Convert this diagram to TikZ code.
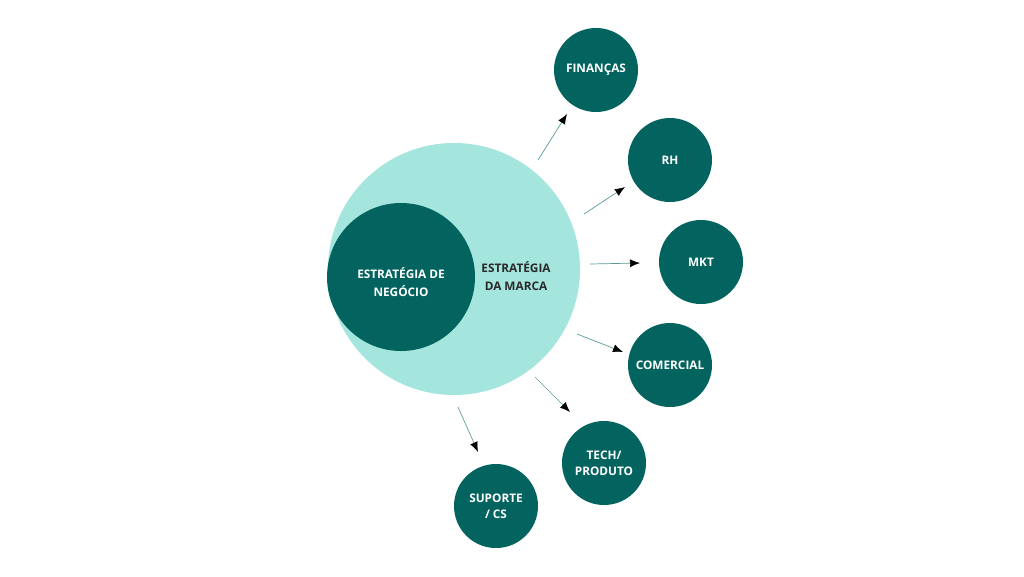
\documentclass[tikz,border=0pt]{standalone}
\usepackage{fontspec}
\setmainfont{Open Sans}
\usetikzlibrary{arrows.meta}
\definecolor{darkteal}{HTML}{02635F}
\definecolor{lightteal}{HTML}{A4E6DD}
\definecolor{linecol}{HTML}{5C9C9A}
\definecolor{txtdark}{HTML}{2A2A2A}
\begin{document}
\begin{tikzpicture}[x=1pt,y=-1pt,
  dept/.style={circle,fill=darkteal,minimum size=84pt,inner sep=0pt,text=white,
    font=\fontsize{11.8}{16}\selectfont\bfseries,align=center},
  conn/.style={draw=linecol,line width=0.7pt,-{Latex[length=10pt,width=8pt,color=black]}}]
\useasboundingbox (0,0) rectangle (1024,576);
\fill[white] (0,0) rectangle (1024,576);
\node[circle,fill=lightteal,minimum size=252pt,inner sep=0pt] (marca) at (454,269) {};
\node[circle,fill=darkteal,minimum size=148pt,inner sep=0pt] (negocio) at (401,277) {};
\node[text=white,font=\fontsize{11.8}{18}\selectfont\bfseries,align=center] (negtxt) at (401,282) {ESTRATÉGIA DE\\NEGÓCIO};
\node[text=txtdark,font=\fontsize{11.8}{18}\selectfont\bfseries,align=center] (marcatxt) at (516,276) {ESTRATÉGIA\\DA MARCA};
\node[dept] (fin) at (596,70) {FINANÇAS};
\node[dept] (rh) at (670,160) {RH};
\node[dept] (mkt) at (701,262) {MKT};
\node[dept] (com) at (670,365) {COMERCIAL};
\node[dept] (tech) at (604,463) {TECH/\\PRODUTO};
\node[dept] (sup) at (496,506) {SUPORTE\\/ CS};
\coordinate (s1) at (538,160); \coordinate (e1) at (567,114);
\coordinate (s2) at (584,214); \coordinate (e2) at (625,187);
\coordinate (s3) at (590,264); \coordinate (e3) at (640,263);
\coordinate (s4) at (577,334); \coordinate (e4) at (623,352);
\coordinate (s5) at (535,377); \coordinate (e5) at (570,412);
\coordinate (s6) at (458,407); \coordinate (e6) at (478,452);
\draw[conn] (s1) -- (e1);
\draw[conn] (s2) -- (e2);
\draw[conn] (s3) -- (e3);
\draw[conn] (s4) -- (e4);
\draw[conn] (s5) -- (e5);
\draw[conn] (s6) -- (e6);
\end{tikzpicture}
\end{document}
